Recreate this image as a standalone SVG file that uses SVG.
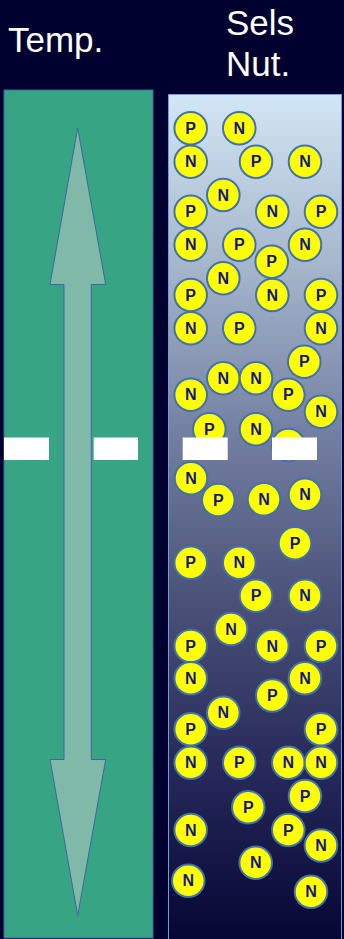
<svg xmlns="http://www.w3.org/2000/svg" width="344" height="939" viewBox="0 0 344 939">
<defs>
<linearGradient id="sea" x1="0" y1="0" x2="0" y2="1">
<stop offset="0" stop-color="#d2e6f4"/>
<stop offset="0.2" stop-color="#a6b6cc"/>
<stop offset="0.4" stop-color="#737fa2"/>
<stop offset="0.6" stop-color="#4a5078"/>
<stop offset="0.8" stop-color="#252858"/>
<stop offset="1" stop-color="#050533"/>
</linearGradient>
<style>
.title{font-family:"Liberation Sans",Arial,sans-serif;font-size:35px;fill:#ffffff}
.c{fill:#ffff00;stroke:#3f72ae;stroke-width:2}
.t{font-family:"Liberation Sans",Arial,sans-serif;font-size:16px;font-weight:bold;fill:#15158a;text-anchor:middle;dominant-baseline:central}
.bar{fill:#ffffff}
</style>
</defs>
<rect width="344" height="939" fill="#01012f"/>
<text class="title" x="8" y="52">Temp.</text>
<text class="title" x="226" y="35">Sels</text>
<text class="title" x="226" y="76">Nut.</text>
<g id="temp-column">
<rect x="4" y="90" width="149" height="848" fill="#37a584" stroke="#3a68a2" stroke-width="1"/>
</g>
<g id="connectors">
<polygon points="77.7,128 105.7,284.5 91.3,284.5 91.3,759.5 105.7,759.5 77.7,915.5 50,759.5 64,759.5 64,284.5 50,284.5" fill="#80b9a8" stroke="#3a68a2" stroke-width="1"/>
</g>
<g id="nutrient-column">
<rect x="168.5" y="94.5" width="173" height="850" fill="url(#sea)" stroke="#6e9ed6" stroke-width="1"/>
</g>
<g id="particles">
<g id="p1"><circle class="c" cx="190.7" cy="128.3" r="16.3"/><text class="t" x="190.7" y="128.3">P</text></g>
<g id="n1"><circle class="c" cx="239.3" cy="128.3" r="16.3"/><text class="t" x="239.3" y="128.3">N</text></g>
<g id="n2"><circle class="c" cx="190.7" cy="161.7" r="16.3"/><text class="t" x="190.7" y="161.7">N</text></g>
<g id="p2"><circle class="c" cx="256" cy="161.7" r="16.3"/><text class="t" x="256" y="161.7">P</text></g>
<g id="n3"><circle class="c" cx="305" cy="161.7" r="16.3"/><text class="t" x="305" y="161.7">N</text></g>
<g id="n4"><circle class="c" cx="223.3" cy="195" r="16.3"/><text class="t" x="223.3" y="195">N</text></g>
<g id="p3"><circle class="c" cx="190.7" cy="211.7" r="16.3"/><text class="t" x="190.7" y="211.7">P</text></g>
<g id="n5"><circle class="c" cx="272.3" cy="211.7" r="16.3"/><text class="t" x="272.3" y="211.7">N</text></g>
<g id="p4"><circle class="c" cx="321" cy="211.7" r="16.3"/><text class="t" x="321" y="211.7">P</text></g>
<g id="n6"><circle class="c" cx="190.7" cy="244.7" r="16.3"/><text class="t" x="190.7" y="244.7">N</text></g>
<g id="p5"><circle class="c" cx="239.3" cy="244.7" r="16.3"/><text class="t" x="239.3" y="244.7">P</text></g>
<g id="n7"><circle class="c" cx="305" cy="244.7" r="16.3"/><text class="t" x="305" y="244.7">N</text></g>
<g id="p6"><circle class="c" cx="271.7" cy="261.7" r="16.3"/><text class="t" x="271.7" y="261.7">P</text></g>
<g id="n8"><circle class="c" cx="223.3" cy="278.3" r="16.3"/><text class="t" x="223.3" y="278.3">N</text></g>
<g id="p7"><circle class="c" cx="190.7" cy="295" r="16.3"/><text class="t" x="190.7" y="295">P</text></g>
<g id="n9"><circle class="c" cx="272.3" cy="295" r="16.3"/><text class="t" x="272.3" y="295">N</text></g>
<g id="p8"><circle class="c" cx="321" cy="295" r="16.3"/><text class="t" x="321" y="295">P</text></g>
<g id="n10"><circle class="c" cx="190.7" cy="328.3" r="16.3"/><text class="t" x="190.7" y="328.3">N</text></g>
<g id="p9"><circle class="c" cx="239.3" cy="328.3" r="16.3"/><text class="t" x="239.3" y="328.3">P</text></g>
<g id="n11"><circle class="c" cx="321" cy="328.3" r="16.3"/><text class="t" x="321" y="328.3">N</text></g>
<g id="p10"><circle class="c" cx="304.3" cy="361.7" r="16.3"/><text class="t" x="304.3" y="361.7">P</text></g>
<g id="n12"><circle class="c" cx="223.3" cy="378.3" r="16.3"/><text class="t" x="223.3" y="378.3">N</text></g>
<g id="n13"><circle class="c" cx="256" cy="378.3" r="16.3"/><text class="t" x="256" y="378.3">N</text></g>
<g id="n14"><circle class="c" cx="190.7" cy="394.7" r="16.3"/><text class="t" x="190.7" y="394.7">N</text></g>
<g id="p11"><circle class="c" cx="288.3" cy="394.7" r="16.3"/><text class="t" x="288.3" y="394.7">P</text></g>
<g id="n15"><circle class="c" cx="321" cy="411.7" r="16.3"/><text class="t" x="321" y="411.7">N</text></g>
<g id="p12"><circle class="c" cx="209.3" cy="429.3" r="16.3"/><text class="t" x="209.3" y="429.3">P</text></g>
<g id="n16"><circle class="c" cx="256" cy="429.3" r="16.3"/><text class="t" x="256" y="429.3">N</text></g>
<g id="x1"><circle class="c" cx="288.3" cy="445" r="16.3"/></g>
<g id="n17"><circle class="c" cx="191" cy="478.3" r="16.3"/><text class="t" x="191" y="478.3">N</text></g>
<g id="p13"><circle class="c" cx="218.3" cy="500" r="16.3"/><text class="t" x="218.3" y="500">P</text></g>
<g id="n18"><circle class="c" cx="264" cy="499.3" r="16.3"/><text class="t" x="264" y="499.3">N</text></g>
<g id="n19"><circle class="c" cx="305" cy="494.7" r="16.3"/><text class="t" x="305" y="494.7">N</text></g>
<g id="p14"><circle class="c" cx="295" cy="543.3" r="16.3"/><text class="t" x="295" y="543.3">P</text></g>
<g id="p15"><circle class="c" cx="190.7" cy="562.7" r="16.3"/><text class="t" x="190.7" y="562.7">P</text></g>
<g id="n20"><circle class="c" cx="239.3" cy="562.7" r="16.3"/><text class="t" x="239.3" y="562.7">N</text></g>
<g id="p16"><circle class="c" cx="256" cy="595.7" r="16.3"/><text class="t" x="256" y="595.7">P</text></g>
<g id="n21"><circle class="c" cx="305" cy="595.7" r="16.3"/><text class="t" x="305" y="595.7">N</text></g>
<g id="n22"><circle class="c" cx="231" cy="629" r="16.3"/><text class="t" x="231" y="629">N</text></g>
<g id="p17"><circle class="c" cx="190.7" cy="646" r="16.3"/><text class="t" x="190.7" y="646">P</text></g>
<g id="n23"><circle class="c" cx="272.3" cy="646" r="16.3"/><text class="t" x="272.3" y="646">N</text></g>
<g id="p18"><circle class="c" cx="321" cy="646" r="16.3"/><text class="t" x="321" y="646">P</text></g>
<g id="n24"><circle class="c" cx="190.7" cy="678.3" r="16.3"/><text class="t" x="190.7" y="678.3">N</text></g>
<g id="n25"><circle class="c" cx="305" cy="678.3" r="16.3"/><text class="t" x="305" y="678.3">N</text></g>
<g id="p19"><circle class="c" cx="272.3" cy="695.5" r="16.3"/><text class="t" x="272.3" y="695.5">P</text></g>
<g id="n26"><circle class="c" cx="223.3" cy="712.7" r="16.3"/><text class="t" x="223.3" y="712.7">N</text></g>
<g id="p20"><circle class="c" cx="190.7" cy="729.3" r="16.3"/><text class="t" x="190.7" y="729.3">P</text></g>
<g id="p21"><circle class="c" cx="321" cy="729.3" r="16.3"/><text class="t" x="321" y="729.3">P</text></g>
<g id="n27"><circle class="c" cx="190.7" cy="762.7" r="16.3"/><text class="t" x="190.7" y="762.7">N</text></g>
<g id="p22"><circle class="c" cx="239.3" cy="762.7" r="16.3"/><text class="t" x="239.3" y="762.7">P</text></g>
<g id="n28"><circle class="c" cx="288.3" cy="762.7" r="16.3"/><text class="t" x="288.3" y="762.7">N</text></g>
<g id="n29"><circle class="c" cx="321" cy="762.7" r="16.3"/><text class="t" x="321" y="762.7">N</text></g>
<g id="p23"><circle class="c" cx="305" cy="796" r="16.3"/><text class="t" x="305" y="796">P</text></g>
<g id="p24"><circle class="c" cx="248.3" cy="807.3" r="16.3"/><text class="t" x="248.3" y="807.3">P</text></g>
<g id="n30"><circle class="c" cx="190.7" cy="830" r="16.3"/><text class="t" x="190.7" y="830">N</text></g>
<g id="p25"><circle class="c" cx="288.3" cy="830" r="16.3"/><text class="t" x="288.3" y="830">P</text></g>
<g id="n31"><circle class="c" cx="321" cy="845.5" r="16.3"/><text class="t" x="321" y="845.5">N</text></g>
<g id="n32"><circle class="c" cx="255.7" cy="862.7" r="16.3"/><text class="t" x="255.7" y="862.7">N</text></g>
<g id="n33"><circle class="c" cx="188.3" cy="880.7" r="16.3"/><text class="t" x="188.3" y="880.7">N</text></g>
<g id="n34"><circle class="c" cx="311" cy="891.7" r="16.3"/><text class="t" x="311" y="891.7">N</text></g>
</g>
<g id="markers">
<rect class="bar" x="4" y="437.5" width="45" height="22.5"/>
<rect class="bar" x="93.7" y="437.5" width="44.3" height="22.5"/>
<rect class="bar" x="182.7" y="437.5" width="45" height="22.5"/>
<rect class="bar" x="272" y="437.5" width="45" height="22.5"/>
</g>
</svg>
